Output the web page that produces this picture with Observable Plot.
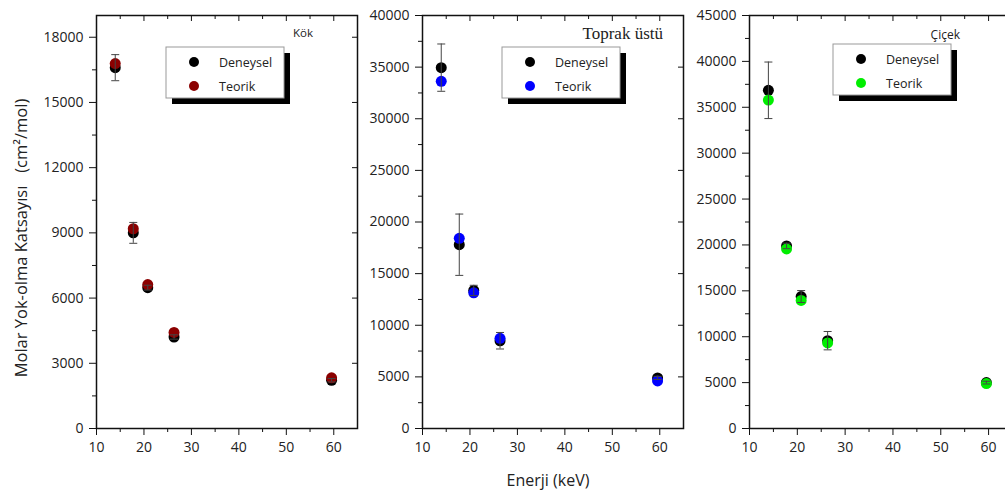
<!DOCTYPE html>
<html><head><meta charset="utf-8">
<script src="https://cdn.jsdelivr.net/npm/d3@7"></script>
<script src="https://cdn.jsdelivr.net/npm/@observablehq/plot@0.6"></script>
<style>
body{margin:0;background:#fff;}
#wrap{position:relative;width:1005px;height:491px;overflow:hidden;background:#fff;}
#wrap svg{position:absolute;left:0;top:0;}
</style></head><body><div id="wrap"></div>
<script>
// ---- data ----
const energy = [13.95, 17.75, 20.8, 26.34, 59.54];
const seriesNames = ["Deneysel", "Teorik"];
const panelTitles = ["Kök", "Toprak üstü", "Çiçek"];
const kokDeneysel = [16600, 9000, 6480, 4210, 2220];
const kokDeneyselErr = [600, 480, 110, 100, 80];
const kokTeorik = [16790, 9190, 6620, 4420, 2330];
const toprakDeneysel = [34950, 17800, 13370, 8500, 4900];
const toprakDeneyselErr = [2290, 2970, 500, 800, 150];
const toprakTeorik = [33620, 18420, 13140, 8730, 4610];
const cicekDeneysel = [36850, 19890, 14380, 9570, 5000];
const cicekDeneyselErr = [3080, 300, 650, 1000, 150];
const cicekTeorik = [35790, 19570, 13950, 9320, 4890];
const xTicks = [10, 20, 30, 40, 50, 60];
const xMinorTicks = [15, 25, 35, 45, 55];
const kokYTicks = [0, 3000, 6000, 9000, 12000, 15000, 18000];
const kokYMinor = [1500, 4500, 7500, 10500, 13500, 16500];
const toprakYTicks = [0, 5000, 10000, 15000, 20000, 25000, 30000, 35000, 40000];
const toprakYMinor = [2500, 7500, 12500, 17500, 22500, 27500, 32500, 37500];
const cicekYTicks = [0, 5000, 10000, 15000, 20000, 25000, 30000, 35000, 40000, 45000];
const cicekYMinor = [2500, 7500, 12500, 17500, 22500, 27500, 32500, 37500, 42500];
const xLabel = "Enerji (keV)";
const yLabel = "Molar Yok-olma Katsayısı   (cm²/mol)";

// ---- layout / style ----
const W = 1020, H = 491, TOP = 15, BOTTOM = 428;
const plotH = BOTTOM - TOP;
const FONT = "'Open Sans', sans-serif";

const panels = [
  {x0: 96, x1: 357, yMax: 19000, yTicks: kokYTicks, yMinor: kokYMinor,
   dene: kokDeneysel, err: kokDeneyselErr, teo: kokTeorik, color: "#8b0000",
   legend: [166, 47], title: {text: panelTitles[0], x: 313, y: 37, font: FONT, size: 11.5}},
  {x0: 422, x1: 683, yMax: 40000, yTicks: toprakYTicks, yMinor: toprakYMinor,
   dene: toprakDeneysel, err: toprakDeneyselErr, teo: toprakTeorik, color: "#0000ff",
   legend: [502, 47], title: {text: panelTitles[1], x: 663, y: 39, font: "'Liberation Serif', serif", size: 17}},
  {x0: 749, x1: 1012, yMax: 45000, yTicks: cicekYTicks, yMinor: cicekYMinor,
   dene: cicekDeneysel, err: cicekDeneyselErr, teo: cicekTeorik, color: "#00ee00",
   legend: [833, 44], title: {text: panelTitles[2], x: 960, y: 39, font: FONT, size: 12}}
];

const capSymbol = {draw(ctx) { ctx.moveTo(-4, 0); ctx.lineTo(4, 0); }};
const wrap = document.getElementById("wrap");

panels.forEach((p, idx) => {
  const plotW = p.x1 - p.x0;
  const rows = energy.map((e, i) => ({e, d: p.dene[i], lo: p.dene[i] - p.err[i], hi: p.dene[i] + p.err[i], t: p.teo[i]}));
  const svg = Plot.plot({
    width: W, height: H,
    marginLeft: p.x0, marginRight: W - p.x1, marginTop: TOP, marginBottom: H - BOTTOM,
    style: {background: "transparent", fontFamily: FONT, fontSize: "14px", color: "#222", overflow: "visible", maxWidth: "none"},
    x: {domain: [10, 65]},
    y: {domain: [0, p.yMax]},
    marks: [
      Plot.axisX({ticks: xTicks, tickSize: 7, tickPadding: 7, tickFormat: d => String(d), label: null, fontSize: 14, stroke: "#111"}),
      Plot.tickX(xMinorTicks, {x: d => d, insetTop: plotH, insetBottom: -4, stroke: "#111"}),
      Plot.axisY({ticks: p.yTicks, tickSize: 7, tickPadding: 6, tickFormat: d => String(d), label: null, fontSize: 14, stroke: "#111"}),
      Plot.tickY(p.yMinor, {y: d => d, insetRight: plotW, insetLeft: -4, stroke: "#111"}),
      // inward ticks on top and right
      Plot.tickX(xTicks, {x: d => d, insetBottom: plotH - 6, stroke: "#111"}),
      Plot.tickX(xMinorTicks, {x: d => d, insetBottom: plotH - 4, stroke: "#111"}),
      Plot.tickY(p.yTicks, {y: d => d, insetLeft: plotW - 5, stroke: "#111"}),
      Plot.frame({stroke: "#111", strokeWidth: 1.5}),
      Plot.dot(rows, {x: "e", y: "d", r: 5.5, fill: "#000"}),
      Plot.dot(rows, {x: "e", y: "t", r: 5.5, fill: p.color}),
      Plot.ruleX(rows, {x: "e", y1: "lo", y2: "hi", stroke: "#444", strokeWidth: 1}),
      Plot.dot(rows, {x: "e", y: "lo", symbol: capSymbol, r: 4, stroke: "#444", strokeWidth: 1}),
      Plot.dot(rows, {x: "e", y: "hi", symbol: capSymbol, r: 4, stroke: "#444", strokeWidth: 1})
    ]
  });
  const s = d3.select(svg);
  // legend
  const [lx, ly] = p.legend;
  const lw = 118, lh = 51;
  s.append("rect").attr("x", lx + 6).attr("y", ly + 6).attr("width", lw).attr("height", lh).attr("fill", "#000");
  s.append("rect").attr("x", lx).attr("y", ly).attr("width", lw).attr("height", lh).attr("fill", "#fff").attr("stroke", "#999").attr("stroke-width", 1);
  [["#000", seriesNames[0]], [p.color, seriesNames[1]]].forEach(([c, name], k) => {
    const cy = ly + 15 + k * 24;
    s.append("circle").attr("cx", lx + 28).attr("cy", cy).attr("r", 5).attr("fill", c);
    s.append("text").attr("x", lx + 53).attr("y", cy + 4.5).attr("font-size", 12.5).attr("text-anchor", "start")
      .attr("font-family", FONT).attr("fill", "#222").text(name);
  });
  // panel title
  s.append("text").attr("x", p.title.x).attr("y", p.title.y).attr("text-anchor", "end")
    .attr("font-family", p.title.font).attr("font-size", p.title.size).attr("fill", "#222").text(p.title.text);
  if (idx === 0) {
    s.append("text").attr("transform", "translate(27,238) rotate(-90)").attr("text-anchor", "middle")
      .attr("font-family", FONT).attr("font-size", 16.5).attr("fill", "#222").style("white-space", "pre").text(yLabel);
  }
  if (idx === 1) {
    s.append("text").attr("x", 548).attr("y", 486).attr("text-anchor", "middle")
      .attr("font-family", FONT).attr("font-size", 16).attr("fill", "#222").text(xLabel);
  }
  wrap.appendChild(svg);
});
</script></body></html>
